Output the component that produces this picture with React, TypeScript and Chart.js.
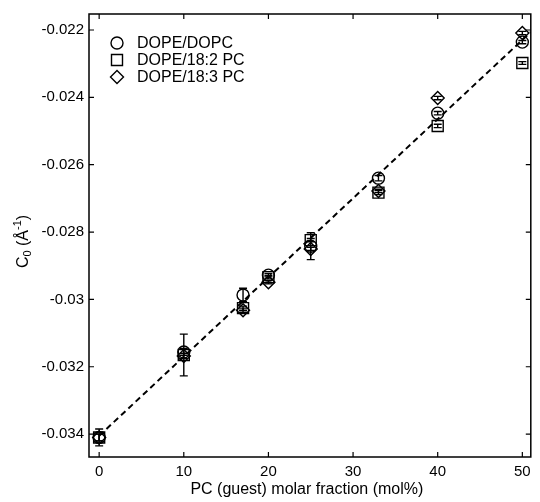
import React, { useEffect, useRef } from 'react';
import { Chart, registerables } from 'chart.js';

Chart.register(...registerables);

// ---- data ----
const xValues = [0, 10, 17, 20, 25, 33, 40, 50];
const dopcValues = [-0.0341, -0.03156, -0.02987, -0.02928, -0.02842, -0.0264, -0.02447, -0.02236];
const pc182Values = [-0.0341, -0.03165, -0.03026, -0.02934, -0.02824, -0.02683, -0.02485, -0.02298];
const pc183Values = [-0.0341, -0.03168, -0.03032, -0.02949, -0.0285, -0.02678, -0.02402, -0.02209];
const dopcErrors = [0.00025, 0.0001, 0.0002, 0.00005, 0.0004, 0.00008, 0.00005, 0.00005];
const pc182Errors = [0.0001, 0.00062, 0.00006, 0.00005, 0.00005, 0.00006, 0.00005, 0.00004];
const pc183Errors = [0.0001, 0.00008, 0.00006, 0.00005, 0.00005, 0.00005, 0.00005, 0.00005];
const fitX = [0, 51];
const fitY = [-0.03405, -0.02206];
const xTicks = [0, 10, 20, 30, 40, 50];
const yTicks = [-0.034, -0.032, -0.03, -0.028, -0.026, -0.024, -0.022];
const seriesLabels = ['DOPE/DOPC', 'DOPE/18:2 PC', 'DOPE/18:3 PC'];
const xTitle = 'PC (guest) molar fraction (mol%)';

const FONT = '"Liberation Sans", Arial, Helvetica, sans-serif';
const MARK_LW = 1.4;

const toPoints = (ys: number[]) => xValues.map((x, i) => ({ x, y: ys[i] }));

function drawMarker(ctx: CanvasRenderingContext2D, style: string, x: number, y: number) {
  ctx.beginPath();
  if (style === 'circle') {
    ctx.arc(x, y, 6, 0, Math.PI * 2);
  } else if (style === 'rect') {
    ctx.rect(x - 5.5, y - 5.5, 11, 11);
  } else {
    ctx.moveTo(x - 6.5, y);
    ctx.lineTo(x, y - 6.5);
    ctx.lineTo(x + 6.5, y);
    ctx.lineTo(x, y + 6.5);
    ctx.closePath();
  }
  ctx.stroke();
}

const decorPlugin = {
  id: 'decor',
  afterDatasetsDraw(chart: any) {
    const { ctx, chartArea, scales } = chart;
    const xs = scales.x;
    const ys = scales.y;
    ctx.save();
    ctx.strokeStyle = '#000';
    // error bars
    ctx.lineWidth = MARK_LW;
    const errSets = [
      [dopcValues, dopcErrors],
      [pc182Values, pc182Errors],
      [pc183Values, pc183Errors],
    ];
    errSets.forEach(([vals, errs]) => {
      xValues.forEach((xv, i) => {
        const px = xs.getPixelForValue(xv);
        const top = ys.getPixelForValue(vals[i] + errs[i]);
        const bot = ys.getPixelForValue(vals[i] - errs[i]);
        ctx.beginPath();
        ctx.moveTo(px, top);
        ctx.lineTo(px, bot);
        ctx.moveTo(px - 4, top);
        ctx.lineTo(px + 4, top);
        ctx.moveTo(px - 4, bot);
        ctx.lineTo(px + 4, bot);
        ctx.stroke();
      });
    });
    // frame
    ctx.lineWidth = 1.5;
    ctx.strokeRect(chartArea.left, chartArea.top, chartArea.right - chartArea.left, chartArea.bottom - chartArea.top);
    // inside ticks
    ctx.lineWidth = 1.2;
    const tl = 5;
    ctx.beginPath();
    xTicks.forEach((v) => {
      const px = xs.getPixelForValue(v);
      ctx.moveTo(px, chartArea.bottom);
      ctx.lineTo(px, chartArea.bottom - tl);
      ctx.moveTo(px, chartArea.top);
      ctx.lineTo(px, chartArea.top + tl);
    });
    yTicks.forEach((v) => {
      const py = ys.getPixelForValue(v);
      ctx.moveTo(chartArea.left, py);
      ctx.lineTo(chartArea.left + tl, py);
      ctx.moveTo(chartArea.right, py);
      ctx.lineTo(chartArea.right - tl, py);
    });
    ctx.stroke();
    // legend
    const styles = ['circle', 'rect', 'rectRot'];
    ctx.lineWidth = MARK_LW;
    ctx.fillStyle = '#000';
    ctx.font = `16px ${FONT}`;
    ctx.textBaseline = 'middle';
    ctx.textAlign = 'left';
    seriesLabels.forEach((lab, i) => {
      const ly = 43 + i * 17;
      drawMarker(ctx, styles[i], 117, ly);
      ctx.fillText(lab, 137, ly + 1);
    });
    // x title
    ctx.textAlign = 'center';
    ctx.textBaseline = 'middle';
    ctx.font = `16px ${FONT}`;
    ctx.fillText(xTitle, (chartArea.left + chartArea.right) / 2 - 3, 490);
    // y title: C_0 (Å^-1)
    const parts: [string, number, number][] = [
      ['C', 16, 0],
      ['0', 11, 3],
      [' (Å', 16, 0],
      ['-1', 11, -7],
      [')', 16, 0],
    ];
    let total = 0;
    parts.forEach(([t, s]) => {
      ctx.font = `${s}px ${FONT}`;
      total += ctx.measureText(t).width;
    });
    ctx.translate(28, 241.5);
    ctx.rotate(-Math.PI / 2);
    ctx.textAlign = 'left';
    ctx.textBaseline = 'alphabetic';
    let cx = -total / 2;
    parts.forEach(([t, s, off]) => {
      ctx.font = `${s}px ${FONT}`;
      ctx.fillText(t, cx, off);
      cx += ctx.measureText(t).width;
    });
    ctx.restore();
  },
};

export default function App() {
  const ref = useRef<HTMLCanvasElement | null>(null);
  useEffect(() => {
    if (!ref.current) return;
    const common = {
      type: 'scatter' as const,
      borderColor: '#000',
      backgroundColor: 'rgba(0,0,0,0)',
      pointBorderWidth: MARK_LW,
      showLine: false,
    };
    const chart = new Chart(ref.current, {
      type: 'scatter',
      data: {
        datasets: [
          {
            type: 'line',
            label: 'fit',
            data: fitX.map((x, i) => ({ x, y: fitY[i] })),
            borderColor: '#000',
            borderWidth: 2,
            borderDash: [6, 4],
            pointRadius: 0,
            fill: false,
          } as any,
          { ...common, label: seriesLabels[0], data: toPoints(dopcValues), pointStyle: 'circle', pointRadius: 6 },
          { ...common, label: seriesLabels[1], data: toPoints(pc182Values), pointStyle: 'rect', pointRadius: 7.8 },
          { ...common, label: seriesLabels[2], data: toPoints(pc183Values), pointStyle: 'rectRot', pointRadius: 6.5 },
        ],
      },
      options: {
        animation: false,
        responsive: false,
        maintainAspectRatio: false,
        layout: { padding: { top: 14, right: 4, left: 0, bottom: 0 } },
        plugins: { legend: { display: false }, tooltip: { enabled: false } },
        scales: {
          x: {
            type: 'linear',
            min: -1.2,
            max: 51,
            afterBuildTicks: (s: any) => {
              s.ticks = xTicks.map((v) => ({ value: v }));
            },
            afterFit: (s: any) => {
              s.height = 45;
            },
            grid: { display: false, drawTicks: false },
            border: { display: false },
            ticks: {
              color: '#000',
              font: { family: FONT, size: 15 },
              padding: 6,
              maxRotation: 0,
              autoSkip: false,
              callback: (v: any) => String(v),
            },
          },
          y: {
            type: 'linear',
            min: -0.03468,
            max: -0.021525,
            afterBuildTicks: (s: any) => {
              s.ticks = yTicks.map((v) => ({ value: v }));
            },
            afterFit: (s: any) => {
              s.width = 89;
            },
            grid: { display: false, drawTicks: false },
            border: { display: false },
            ticks: {
              color: '#000',
              font: { family: FONT, size: 15 },
              padding: 5,
              autoSkip: false,
              callback: (v: any) => String(Number(Number(v).toFixed(3))),
            },
          },
        },
      },
      plugins: [decorPlugin],
    } as any);
    return () => chart.destroy();
  }, []);
  return (
    <div style={{ position: 'absolute', left: 0, top: 0, width: 540, height: 502, background: '#fff' }}>
      <canvas ref={ref} width={540} height={502} style={{ width: 540, height: 502, display: 'block' }} />
    </div>
  );
}
